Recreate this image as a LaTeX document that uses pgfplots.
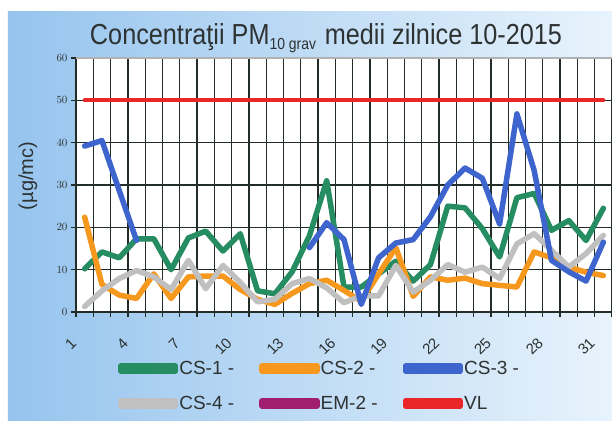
\documentclass[border=0pt]{standalone}
\usepackage{pgfplots}
\pgfplotsset{compat=1.18}
\usepackage{pgfplotstable}
\usepackage{graphicx}
\usepackage{fontspec}
\setmainfont{Liberation Sans}
\usetikzlibrary{backgrounds}

\definecolor{cgreen}{RGB}{38,140,98}
\definecolor{corange}{RGB}{247,152,30}
\definecolor{cblue}{RGB}{62,100,205}
\definecolor{cgray}{RGB}{192,192,192}
\definecolor{cpurple}{RGB}{160,30,110}
\definecolor{cred}{RGB}{232,38,40}
\definecolor{bgleft}{RGB}{150,196,238}
\definecolor{bgright}{RGB}{232,243,252}
\definecolor{gridc}{RGB}{35,45,40}
\definecolor{txt}{RGB}{45,50,50}

\pgfplotstableread{
day cs1  cs2  cs3  cs4  vl
1   10.2 22.4 39.2 1.3  50
2   14.2 6.5  40.5 5.0  50
3   12.8 4.0  28.7 7.9  50
4   17.3 3.2  16.9 9.8  50
5   17.3 9.0  nan  8.3  50
6   10.0 3.2  nan  5.3  50
7   17.5 8.3  nan  12.2 50
8   19.1 8.5  nan  5.5  50
9   14.4 8.5  nan  11.0 50
10  18.5 5.3  nan  7.0  50
11  5.0  3.0  nan  2.4  50
12  4.3  1.8  nan  3.0  50
13  9.5  4.4  nan  6.7  50
14  18.0 6.7  15.2 7.9  50
15  31.0 7.5  21.1 5.7  50
16  5.9  5.1  17.1 2.2  50
17  5.9  2.5  1.8  3.8  50
18  9.0  9.0  12.8 3.8  50
19  12.0 15.2 16.3 11.0 50
20  7.3  3.7  17.1 4.7  50
21  11.2 8.3  22.5 7.5  50
22  25.0 7.5  30.0 11.2 50
23  24.6 8.0  34.0 9.4  50
24  19.7 6.7  31.6 10.6 50
25  13.0 6.3  20.8 7.9  50
26  27.0 5.9  46.8 16.1 50
27  28.0 14.2 33.4 18.5 50
28  19.3 12.8 12.2 14.6 50
29  21.6 10.6 9.5  10.6 50
30  16.9 9.4  7.3  13.8 50
31  24.5 8.6  16.5 18.1 50
}\data

\begin{document}
\begin{tikzpicture}
\begin{axis}[
  at={(0pt,0pt)}, anchor=south west,
  scale only axis, width=536pt, height=254pt,
  xmin=0.5, xmax=31.5, ymin=0, ymax=60,
  xtick={0.5,1.5,...,31.5},
  xticklabels={1,{},{},4,{},{},7,{},{},10,{},{},13,{},{},16,{},{},19,{},{},22,{},{},25,{},{},28,{},{},31,{}},
  ytick={0,10,...,50},
  extra y ticks={60},
  extra y tick style={grid=major, major grid style={black!30, line width=1.2pt}},
  grid=major,
  major grid style={gridc, line width=1.3pt},
  axis x line*=bottom, axis y line*=left,
  axis line style={-, gridc, line width=1.3pt},
  tick style={gridc, line width=1.3pt},
  tick align=outside, major tick length=5pt,
  xticklabel style={rotate=45, anchor=east, font=\fontsize{15}{15}\selectfont, text=txt},
  xticklabel shift=21pt,
  yticklabel style={font=\fontsize{11}{11}\selectfont, text=txt},
  axis background/.style={fill=white},
  unbounded coords=jump,
  clip=false,
  legend columns=3,
  legend cell align=left,
  legend style={draw=none, fill=none, at={(0.072,-0.185)}, anchor=north west,
    font=\fontsize{19}{19}\selectfont, text=txt,
    nodes={inner sep=0pt},
    /tikz/every odd column/.append style={column sep=1pt},
    /tikz/every even column/.append style={column sep=25pt},
    row sep=20pt},
  legend image code/.code={\draw[#1, line width=4.5pt, line cap=round] (3pt,0pt) -- (52pt,0pt); \path (0pt,-2.5pt) rectangle (55pt,2.5pt);},
  every axis plot/.append style={line width=5.5pt, line join=round, line cap=round},
]
\addplot[cgreen, forget plot] table[x=day, y=cs1] {\data};
\addplot[corange, forget plot] table[x=day, y=cs2] {\data};
\addplot[cgray, forget plot] table[x=day, y=cs4] {\data};
\addplot[cblue, forget plot] table[x=day, y=cs3] {\data};
\addplot[cred, line width=4pt, forget plot] table[x=day, y=vl] {\data};
\addlegendimage{cgreen}\addlegendentry{CS-1 -}
\addlegendimage{corange}\addlegendentry{CS-2 -}
\addlegendimage{cblue}\addlegendentry{CS-3 -}
\addlegendimage{cgray}\addlegendentry{CS-4 -}
\addlegendimage{cpurple}\addlegendentry{EM-2 -}
\addlegendimage{cred}\addlegendentry{VL}
\end{axis}
\node[anchor=base, text=txt] at (250pt,267pt) {\resizebox{472pt}{21pt}{\fontsize{29}{29}\selectfont Concentraţii PM\raisebox{-0.16em}{\fontsize{16}{16}\selectfont 10 grav}\hspace{0.35em}medii zilnice 10-2015}};
\node[rotate=90, text=txt, font=\fontsize{20}{20}\selectfont] at (-48pt,136pt) {(µg/mc)};
\pgfresetboundingbox
\path (-76pt,-110pt) rectangle (536pt,312pt);
\begin{pgfonlayer}{background}
\fill[white] (-76pt,-110pt) rectangle (536pt,312pt);
\shade[left color=bgleft, right color=bgright] (-68pt,-108pt) rectangle (536pt,300pt);
\end{pgfonlayer}
\end{tikzpicture}
\end{document}
